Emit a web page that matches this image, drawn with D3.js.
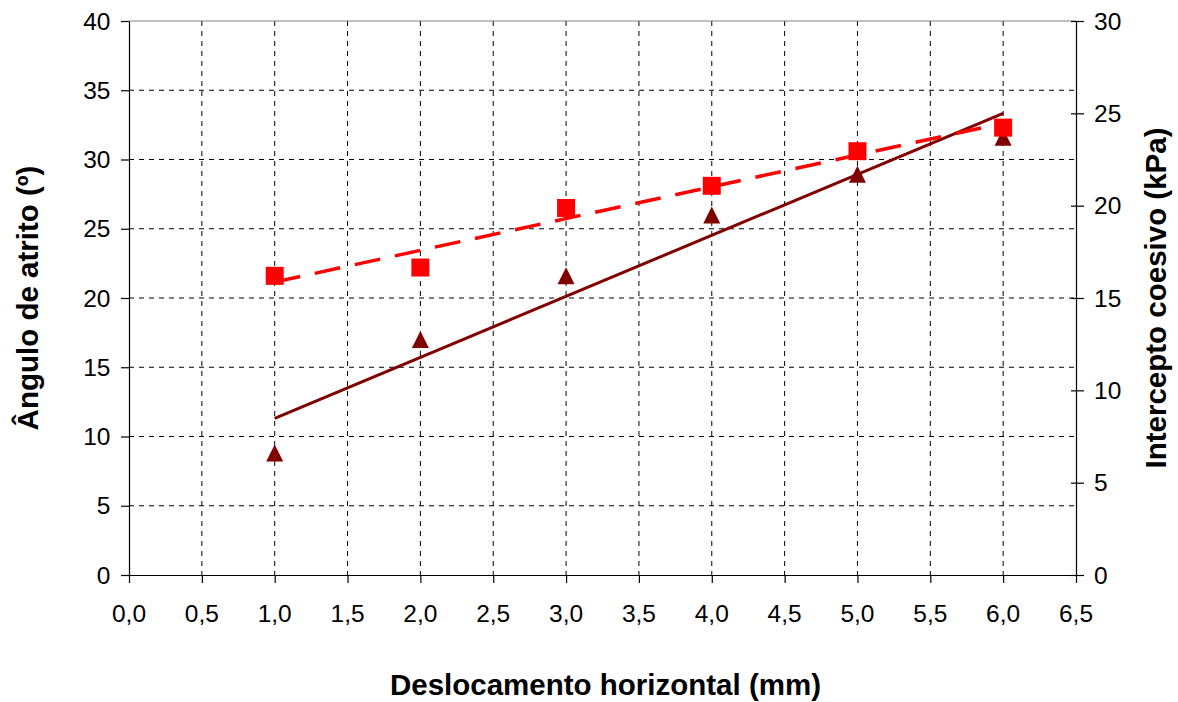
<!DOCTYPE html>
<html>
<head>
<meta charset="utf-8">
<script src="https://cdn.jsdelivr.net/npm/d3@7"></script>
<style>
  html, body { margin: 0; padding: 0; background: #fff; }
  svg text { font-family: "Liberation Sans", Arial, sans-serif; fill: #000; }
</style>
</head>
<body>
<svg id="chart" width="1178" height="702"></svg>
<script>
// Horizontal displacement (mm)
const displacement = [1, 2, 3, 4, 5, 6];
// Friction angle (degrees), left axis
const frictionAngle = [21.6, 22.2, 26.5, 28.1, 30.6, 32.3];
// Cohesive intercept (kPa), right axis
const cohesion = [6.6, 12.75, 16.2, 19.5, 21.7, 23.7];

const xTicks = [0, 0.5, 1, 1.5, 2, 2.5, 3, 3.5, 4, 4.5, 5, 5.5, 6, 6.5];
const leftTicks = [0, 5, 10, 15, 20, 25, 30, 35, 40];
const rightTicks = [0, 5, 10, 15, 20, 25, 30];

const plot = { left: 129, right: 1076, top: 21, bottom: 575 };
const tickFont = 24.5;
const titleFont = 29.5;

const svg = d3.select("#chart");
const x = d3.scaleLinear().domain([0, 6.5]).range([plot.left, plot.right]);
const yL = d3.scaleLinear().domain([0, 40]).range([plot.bottom, plot.top]);
const yR = d3.scaleLinear().domain([0, 30]).range([plot.bottom, plot.top]);

const fmt1 = d3.format(".1f");
const comma = v => fmt1(v).replace(".", ",");

// dashed grid
const grid = svg.append("g");
xTicks.slice(1, -1).forEach(t => {
  grid.append("line").attr("x1", x(t)).attr("x2", x(t))
    .attr("y1", plot.top).attr("y2", plot.bottom)
    .attr("stroke", "#000").attr("stroke-width", 1).attr("stroke-dasharray", "5,5");
});
leftTicks.slice(1, -1).forEach(t => {
  grid.append("line").attr("x1", plot.left).attr("x2", plot.right)
    .attr("y1", yL(t)).attr("y2", yL(t))
    .attr("stroke", "#000").attr("stroke-width", 1).attr("stroke-dasharray", "5,5");
});
// top border
svg.append("line").attr("x1", plot.left).attr("x2", plot.right)
  .attr("y1", plot.top).attr("y2", plot.top).attr("stroke", "#808080").attr("stroke-width", 1);

// axes
const xAxis = svg.append("g").attr("transform", `translate(0,${plot.bottom})`)
  .call(d3.axisBottom(x).tickValues(xTicks).tickSize(8).tickSizeOuter(0).tickFormat(""));
const yAxisL = svg.append("g").attr("transform", `translate(${plot.left},0)`)
  .call(d3.axisLeft(yL).tickValues(leftTicks).tickSize(8).tickSizeOuter(0).tickFormat(""));
const yAxisR = svg.append("g").attr("transform", `translate(${plot.right},0)`)
  .call(d3.axisRight(yR).tickValues(rightTicks).tickSize(8).tickSizeOuter(0).tickFormat(""));
[xAxis, yAxisL, yAxisR].forEach(a => {
  a.select(".domain").attr("stroke", "#000").attr("stroke-width", 1.2);
  a.selectAll(".tick line").attr("stroke", "#000").attr("stroke-width", 1.2);
});
yAxisR.selectAll(".tick line").attr("x1", -5);

// tick labels
const labels = svg.append("g");
labels.selectAll("text.xt").data(xTicks).join("text").attr("class", "xt")
  .attr("x", d => x(d)).attr("y", 613)
  .attr("text-anchor", "middle").attr("dominant-baseline", "central")
  .style("font-size", tickFont + "px").text(comma);
labels.selectAll("text.yl").data(leftTicks).join("text").attr("class", "yl")
  .attr("x", 110.5).attr("y", d => yL(d))
  .attr("text-anchor", "end").attr("dominant-baseline", "central")
  .style("font-size", tickFont + "px").text(d => d);
labels.selectAll("text.yr").data(rightTicks).join("text").attr("class", "yr")
  .attr("x", 1094).attr("y", d => yR(d))
  .attr("text-anchor", "start").attr("dominant-baseline", "central")
  .style("font-size", tickFont + "px").text(d => d);

// axis titles
const midY = (plot.top + plot.bottom) / 2;
labels.append("text")
  .attr("x", (plot.left + plot.right) / 2 + 3).attr("y", 695)
  .attr("text-anchor", "middle")
  .style("font-size", titleFont + "px").style("font-weight", "bold")
  .text("Deslocamento horizontal (mm)");
labels.append("text")
  .attr("transform", `translate(38,${midY}) rotate(-90)`)
  .attr("text-anchor", "middle")
  .style("font-size", titleFont + "px").style("font-weight", "bold")
  .text("Ângulo de atrito (º)");
labels.append("text")
  .attr("transform", `translate(1166,${midY}) rotate(-90)`)
  .attr("text-anchor", "middle")
  .style("font-size", titleFont + "px").style("font-weight", "bold")
  .text("Intercepto coesivo (kPa)");

// least-squares trend lines
function fit(xs, ys) {
  const mx = d3.mean(xs), my = d3.mean(ys);
  let sxy = 0, sxx = 0;
  xs.forEach((v, i) => { sxy += (v - mx) * (ys[i] - my); sxx += (v - mx) ** 2; });
  const b = sxy / sxx, a = my - b * mx;
  return v => a + b * v;
}
const x0 = d3.min(displacement), x1 = d3.max(displacement);
const fC = fit(displacement, cohesion);
const fA = fit(displacement, frictionAngle);

// cohesion markers (triangles)
const triPath = "M0,-8.5L8.5,8.5L-8.5,8.5Z";
svg.append("g").selectAll("path").data(displacement).join("path")
  .attr("d", triPath)
  .attr("transform", (d, i) => `translate(${x(d)},${yR(cohesion[i])})`)
  .attr("fill", "#800000");

svg.append("line")
  .attr("x1", x(x0)).attr("y1", yR(fC(x0)))
  .attr("x2", x(x1)).attr("y2", yR(fC(x1)))
  .attr("stroke", "#800000").attr("stroke-width", 3);

svg.append("line")
  .attr("x1", x(x0)).attr("y1", yL(fA(x0)))
  .attr("x2", x(x1)).attr("y2", yL(fA(x1)))
  .attr("stroke", "#ff0000").attr("stroke-width", 3.5)
  .attr("stroke-dasharray", "26,15");

// friction angle markers (squares)
svg.append("g").selectAll("rect").data(displacement).join("rect")
  .attr("x", d => x(d) - 9)
  .attr("y", (d, i) => yL(frictionAngle[i]) - 9)
  .attr("width", 18).attr("height", 18)
  .attr("fill", "#ff0000");
</script>
</body>
</html>
